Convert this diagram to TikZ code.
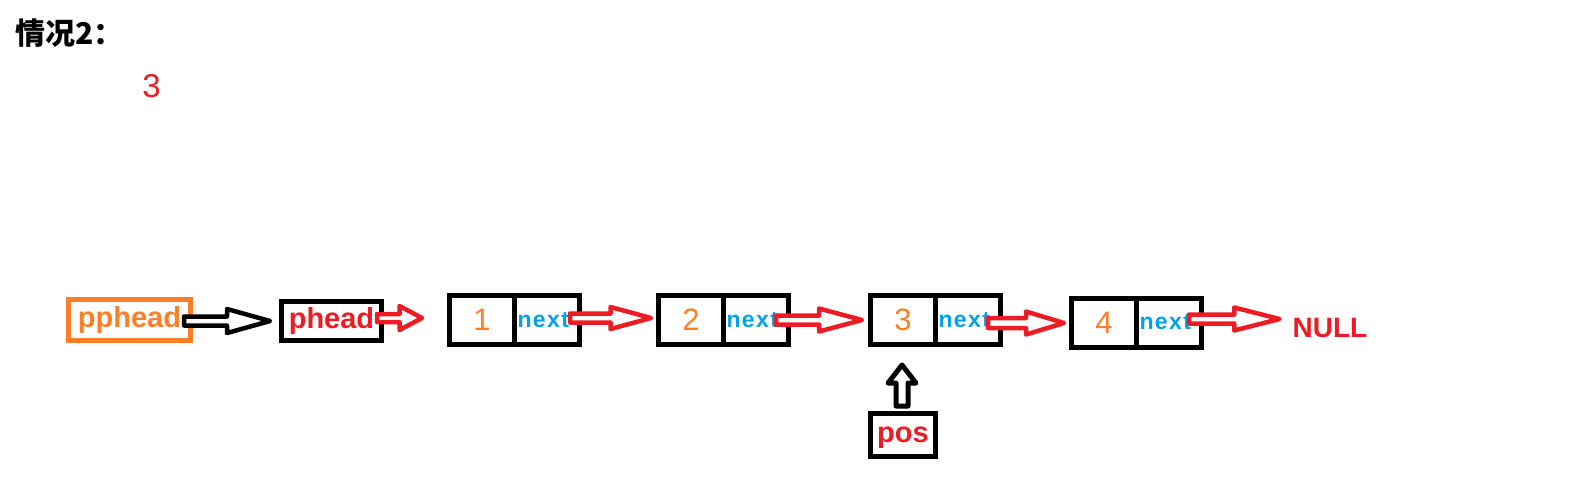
\documentclass[tikz,border=0pt]{standalone}
\usepackage{fontspec}
\setmainfont{Liberation Sans}
\newfontfamily\cjk{Noto Sans CJK SC}
\usetikzlibrary{calc}

\definecolor{paintred}{RGB}{237,28,36}
\definecolor{paintorange}{RGB}{255,127,39}
\definecolor{paintblue}{RGB}{0,162,232}

% hollow block arrow: style, from, to, head position, shaft half width, head half width
\newcommand{\hollowarrow}[6]{%
	\coordinate (ha-s) at (#2);
	\coordinate (ha-t) at (#3);
	\coordinate (ha-m) at ($(ha-s)!#4!(ha-t)$);
	\draw[#1] ($(ha-s)!#5!90:(ha-t)$) -- ($(ha-m)!#5!90:(ha-t)$) -- ($(ha-m)!#6!90:(ha-t)$) -- (ha-t)
		-- ($(ha-m)!#6!-90:(ha-t)$) -- ($(ha-m)!#5!-90:(ha-t)$) -- ($(ha-s)!#5!-90:(ha-t)$) -- cycle;
}

\begin{document}
\begin{tikzpicture}[x=1pt, y=-1pt,
	cell/.style={rectangle, draw=black, line width=5pt, minimum width=65pt, minimum height=49pt, inner sep=0pt, outer sep=0pt},
	numtext/.style={text=paintorange, font=\fontsize{31}{31}\selectfont},
	nexttext/.style={text=paintblue, font=\fontsize{23}{23}\selectfont\bfseries\addfontfeature{LetterSpace=6}, text width=59pt, align=left},
	ptrbox/.style={rectangle, draw=black, line width=5pt, inner sep=0pt, outer sep=0pt, font=\fontsize{29}{29}\selectfont\bfseries},
	redarrow/.style={draw=paintred, fill=white, line width=4.5pt, line join=round},
	blackarrow/.style={draw=black, fill=white, line width=4.5pt, line join=round}]
			\useasboundingbox (0,0) rectangle (1588,499);
			
			% Texts
			\node[anchor=west, inner sep=0pt, font=\cjk\bfseries\fontsize{30}{30}\selectfont] (title) at (15,33) {情况2：};
			\node[text=paintred, font=\fontsize{33}{33}\selectfont] (cnt) at (151.5,86) {3};
			
			% Pointers
			\node[ptrbox, draw=paintorange, text=paintorange, minimum width=122pt, minimum height=41pt] (pp) at (129.5,320) {pphead};
			\node[ptrbox, text=paintred, minimum width=100pt, minimum height=39pt] (ph) at (331.5,321) {phead};
			\node[ptrbox, text=paintred, text depth=0pt, minimum width=65pt, minimum height=43pt] (pos) at (903,435) {pos};
			
			% List nodes
			\node[cell, numtext] (d1) at (482,320) {1};
			\node[cell, nexttext, anchor=west] (x1) at (d1.east) {next};
			\node[cell, numtext] (d2) at (691,320) {2};
			\node[cell, nexttext, anchor=west] (x2) at (d2.east) {next};
			\node[cell, numtext] (d3) at (903,320) {3};
			\node[cell, nexttext, anchor=west] (x3) at (d3.east) {next};
			\node[cell, numtext] (d4) at (1104,322.5) {4};
			\node[cell, nexttext, anchor=west] (x4) at (d4.east) {next};
			\node[text=paintred, inner sep=0pt, font=\fontsize{28}{28}\selectfont\bfseries] (null) at (1330,327.5) {NULL};
			
			% Arrows
			\hollowarrow{blackarrow}{$(pp.east)+(-6.5,1)$}{$(ph.west)+(-11.5,0)$}{0.5}{4.5pt}{12pt}
			\hollowarrow{redarrow}{$(ph.east)+(-4.5,-3)$}{$(d1.west)+(-27.5,-2)$}{0.5}{4pt}{12pt}
			\hollowarrow{redarrow}{$(x1.east)+(-9.5,-2)$}{$(d2.west)+(-7.5,-2)$}{0.5}{4.5pt}{11pt}
			\hollowarrow{redarrow}{$(x2.east)+(-12.5,0)$}{$(d3.west)+(-8.5,0)$}{0.5}{4.5pt}{11.5pt}
			\hollowarrow{redarrow}{$(x3.east)+(-12.5,3)$}{$(d4.west)+(-7.5,0.5)$}{0.5}{5pt}{11.5pt}
			\hollowarrow{redarrow}{$(x4.east)+(-12.5,-3.5)$}{$(null.west)+(-13,-8.5)$}{0.5}{4.5pt}{11.5pt}
			\hollowarrow{blackarrow, line width=5pt}{$(pos.north)+(-1,-7.5)$}{$(d3.south)+(-1,20.5)$}{0.56}{6pt}{14pt}
		\end{tikzpicture}
\end{document}
